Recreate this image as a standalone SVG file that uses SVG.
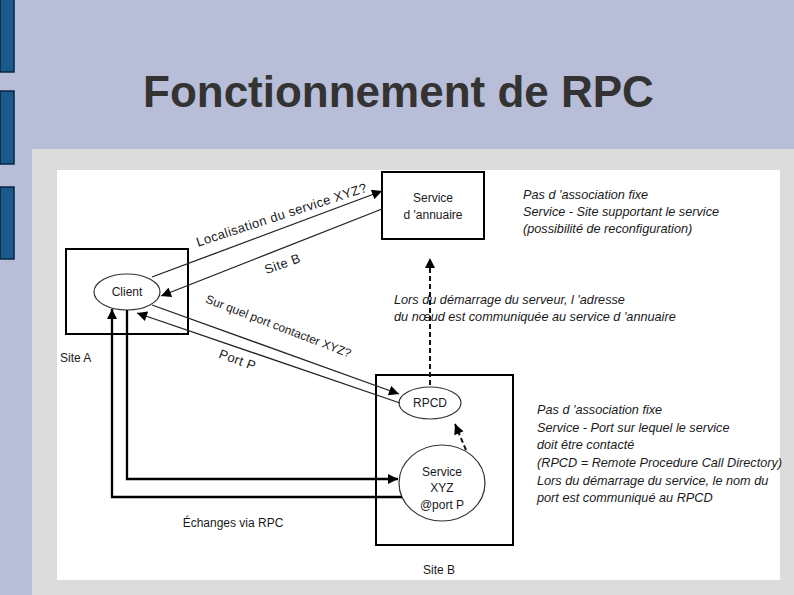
<svg xmlns="http://www.w3.org/2000/svg" width="794" height="595" viewBox="0 0 794 595">
<defs>
<style>
.t{font-family:"Liberation Sans",Arial,sans-serif;font-size:12px;fill:#1a1a1a}
.i{font-style:italic;font-size:12.7px}
.r{font-size:13px;letter-spacing:0.4px}
.c{text-anchor:middle}
.box{fill:#fff;stroke:#000;stroke-width:2}
.ell{fill:#fff;stroke:#333;stroke-width:1.2}
.thin{fill:none;stroke:#222;stroke-width:1.3}
.thick{fill:none;stroke:#000;stroke-width:2.3}
.dash{fill:none;stroke:#111;stroke-width:2;stroke-dasharray:5,3}
.bar{fill:#1b5b8c;stroke:#0b2440;stroke-width:1.5}
</style>
<marker id="ah" viewBox="0 0 10 10" refX="10" refY="5" markerWidth="12" markerHeight="10" markerUnits="userSpaceOnUse" orient="auto">
<path d="M0,0 L10,5 L0,10 Z" fill="#000"/>
</marker>
</defs>
<rect width="794" height="595" fill="#b9bed8"/>
<rect class="bar" x="0" y="-1" width="14" height="73"/>
<rect class="bar" x="0" y="91" width="14" height="73"/>
<rect class="bar" x="0" y="187" width="14" height="72"/>
<text x="143" y="107" style="font-family:'Liberation Sans',Arial,sans-serif;font-size:44px;font-weight:bold;fill:#333">Fonctionnement de RPC</text>
<rect x="32" y="149" width="762" height="446" fill="#dcdcdc"/>
<rect x="57" y="170" width="723" height="410" fill="#fff"/>

<g id="siteA">
<rect class="box" x="66" y="249" width="122" height="85"/>
<text class="t" x="60" y="362">Site A</text>
</g>
<g id="client">
<ellipse class="ell" cx="127" cy="292" rx="33" ry="18"/>
<text class="t c" x="127" y="296">Client</text>
</g>
<g id="annuaire">
<rect class="box" x="382" y="172" width="102" height="67"/>
<text class="t c" x="433" y="202">Service</text>
<text class="t c" x="433" y="219">d 'annuaire</text>
</g>
<g id="siteB">
<rect class="box" x="376" y="375" width="137" height="170"/>
<text class="t c" x="439" y="574">Site B</text>
</g>
<g id="rpcd">
<ellipse class="ell" cx="430" cy="403" rx="31" ry="16"/>
<text class="t c" x="430" y="407">RPCD</text>
</g>
<g id="serviceXYZ">
<ellipse class="ell" cx="442" cy="483" rx="43" ry="38"/>
<text class="t c" x="442" y="476">Service</text>
<text class="t c" x="442" y="492">XYZ</text>
<text class="t c" x="442" y="509">@port P</text>
</g>

<g id="connectors">
<line class="thin" x1="152" y1="277" x2="382" y2="191" marker-end="url(#ah)"/>
<line class="thin" x1="382" y1="209" x2="161" y2="296" marker-end="url(#ah)"/>
<line class="thin" x1="152" y1="305" x2="399" y2="394" marker-end="url(#ah)"/>
<line class="thin" x1="400" y1="403" x2="137" y2="313" marker-end="url(#ah)"/>
<polyline class="thick" points="127,310 127,479 398,479" marker-end="url(#ah)"/>
<polyline class="thick" points="402,497 112,497 112,309" marker-end="url(#ah)"/>
<line class="dash" x1="430" y1="385" x2="430" y2="258" marker-end="url(#ah)"/>
<line class="dash" x1="466" y1="450" x2="455" y2="424" marker-end="url(#ah)"/>
<text class="t r c" transform="translate(283,219) rotate(-18)">Localisation du service XYZ?</text>
<text class="t r c" transform="translate(284,268) rotate(-20)">Site B</text>
<text class="t c" transform="translate(277,330) rotate(21)">Sur quel port contacter XYZ?</text>
<text class="t r c" transform="translate(236,364) rotate(20)">Port P</text>
<text class="t c" x="233" y="527">Échanges via RPC</text>
</g>

<g id="notes">
<text class="t i" x="523" y="199">Pas d 'association fixe</text>
<text class="t i" x="523" y="216">Service - Site supportant le service</text>
<text class="t i" x="523" y="233">(possibilité de reconfiguration)</text>
<text class="t i" x="394" y="304">Lors du démarrage du serveur, l 'adresse</text>
<text class="t i" x="394" y="321">du nœud est communiquée au service d 'annuaire</text>
<text class="t i" x="537" y="414">Pas d 'association fixe</text>
<text class="t i" x="537" y="432">Service - Port sur lequel le service</text>
<text class="t i" x="537" y="449">doit être contacté</text>
<text class="t i" x="537" y="467">(RPCD = Remote Procedure Call Directory)</text>
<text class="t i" x="537" y="485">Lors du démarrage du service, le nom du</text>
<text class="t i" x="537" y="502">port est communiqué au RPCD</text>
</g>
</svg>
